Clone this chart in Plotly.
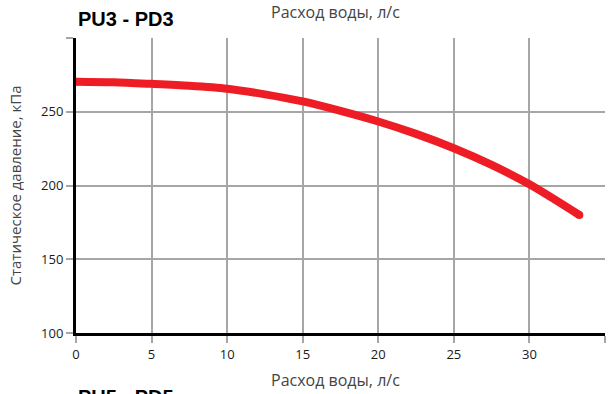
import plotly.graph_objects as go

# Расход воды, л/с -> статическое давление, кПа (PU3 - PD3)
flow = [0, 2.5, 5, 7.5, 10, 12.5, 15, 17.5, 20, 22.5, 25, 27.5, 30, 33.3]
pressure = [270.4, 270.0, 268.9, 267.6, 265.6, 261.8, 257.0, 250.6, 243.4, 235.0, 225.3, 214.0, 200.8, 180.0]

x_ticks = [0, 5, 10, 15, 20, 25, 30, 35]
y_ticks = [100, 150, 200, 250, 300]
y_labels = ["100", "150", "200", "250", ""]

RED = "#ee1d25"
GRID = "#a6a6a6"
TEXT = "#1a1a1a"
LABEL = "#444444"

fig = go.Figure()
fig.add_trace(go.Scatter(
    x=flow, y=pressure, mode="lines",
    line=dict(color=RED, width=8, shape="spline", smoothing=0.8),
    hoverinfo="skip",
))
# rounded ends of the curve
fig.add_trace(go.Scatter(
    x=[flow[0], flow[-1]], y=[pressure[0], pressure[-1]], mode="markers",
    marker=dict(color=RED, size=8, line=dict(width=0)), hoverinfo="skip",
))

fig.update_layout(
    width=611, height=394,
    margin=dict(l=76, r=6, t=38, b=61),
    paper_bgcolor="white", plot_bgcolor="white",
    showlegend=False,
    font=dict(family="Open Sans", size=13, color=TEXT),
    xaxis=dict(
        range=[0, 35], tickvals=x_ticks,
        showgrid=True, gridcolor=GRID, gridwidth=1.5,
        ticks="outside", ticklen=7, tickcolor=GRID, tickwidth=1.5,
        showline=True, linecolor="black", linewidth=3,
        zeroline=False, tickfont=dict(size=13, color=TEXT),
    ),
    yaxis=dict(
        range=[100, 300], tickvals=y_ticks, ticktext=y_labels,
        showgrid=True, gridcolor=GRID, gridwidth=1.5,
        ticks="outside", ticklen=7, tickcolor=GRID, tickwidth=1.5,
        showline=True, linecolor="black", linewidth=3,
        zeroline=False, tickfont=dict(size=13, color=TEXT),
        title=dict(text="Статическое давление, кПа", font=dict(size=15, color=LABEL), standoff=16),
    ),
    annotations=[
        dict(text="<b>PU3 - PD3</b>", x=0, y=1, xref="paper", yref="paper",
             yshift=19, showarrow=False, font=dict(family="Liberation Sans", size=20, color="black"),
             xanchor="left", yanchor="middle"),
        dict(text="Расход воды, л/с", x=0.5, y=1, xref="paper", yref="paper",
             xshift=-5, yshift=26, showarrow=False, font=dict(size=16, color=LABEL),
             xanchor="center", yanchor="middle"),
        dict(text="Расход воды, л/с", x=0.5, y=0, xref="paper", yref="paper",
             xshift=-5, yshift=-47, showarrow=False, font=dict(size=16, color=LABEL),
             xanchor="center", yanchor="middle"),
        dict(text="<b>PU5 - PD5</b>", x=0, y=0, xref="paper", yref="paper",
             yshift=-64, showarrow=False, font=dict(family="Liberation Sans", size=20, color="black"),
             xanchor="left", yanchor="middle"),
    ],
)

fig.write_html("out.html", config={"displayModeBar": False},
               post_script="document.body.style.margin='0';")
